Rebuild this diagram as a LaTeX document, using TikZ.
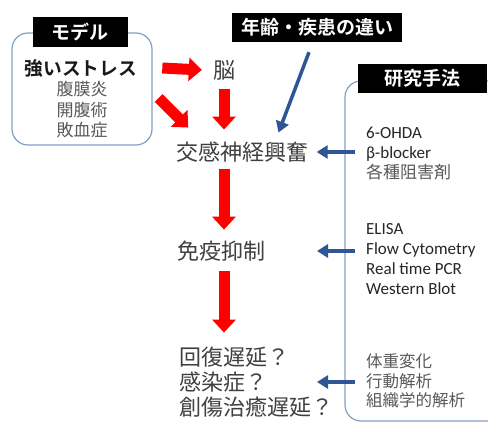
\documentclass[tikz,border=0pt]{standalone}
\usepackage{fontspec}
\setmainfont{Carlito}
\newfontfamily\jp[BoldFont={Noto Sans CJK JP Bold}]{Noto Sans CJK JP}
\usetikzlibrary{arrows.meta,calc}
\definecolor{frameblue}{RGB}{130,160,200}
\definecolor{arrowblue}{RGB}{47,85,151}
\definecolor{maintext}{RGB}{64,64,64}
\definecolor{subtext}{RGB}{89,89,89}
\definecolor{latintext}{RGB}{38,38,38}
\tikzset{
  txt/.style={inner sep=0pt, text=maintext, font=\jp\fontsize{22}{25}\selectfont},
  labelbox/.style={fill=black, text=white, inner sep=0pt, font=\jp\bfseries\fontsize{19}{22}\selectfont},
  redarrow/.style={draw=red, line width=11pt, -{Triangle[length=13pt,width=23pt]}},
  bluearrow/.style={draw=arrowblue, line width=3.5pt, -{Triangle[length=11pt,width=13pt]}},
  frame/.style={draw=frameblue, line width=1.2pt, rounded corners=16pt},
  methods/.style={anchor=west, inner sep=0pt, align=left, text=latintext}
}
\begin{document}
\begin{tikzpicture}[x=1pt,y=-1pt]
\useasboundingbox[fill=white] (0,0) rectangle (488,423);
% frames
\node[frame, minimum width=140pt, minimum height=112pt] (mbox) at (82,89) {};
\draw[frame] (488,81) -- (345,81) -- (345,421) -- (488,421);
% labels
\node[labelbox, minimum width=95pt, minimum height=30pt] (model) at (80,32) {モデル};
\node[labelbox, minimum width=170pt, minimum height=29pt] (age) at (317,27.5) {年齢・疾患の違い};
\node[labelbox, minimum width=129pt, minimum height=29pt] (meth) at (422,78) {研究手法};
% left box content
\node[inner sep=0pt, text=black!90, font=\jp\bfseries\fontsize{18.7}{22}\selectfont] (stress) at (81,68) {強いストレス};
\node[inner sep=0pt, align=center, text=subtext, font=\jp\fontsize{17}{20.5}\selectfont] (sub) at (82,110) {腹膜炎\\開腹術\\敗血症};
% main chain
\node[txt] (brain) at (224,70) {脳};
\node[txt] (symp) at (242.5,152) {交感神経興奮};
\node[txt] (immune) at (221,251) {免疫抑制};
\node[txt, anchor=west] (r1) at (179,357) {回復遅延？};
\node[txt, anchor=west] (r2) at (179,382) {感染症？};
\node[txt, anchor=west] (r3) at (179,407) {創傷治癒遅延？};
% right methods
\node[methods, font=\fontsize{17}{20}\selectfont] (m1) at (366,153) {6-OHDA\\β-blocker\\\textcolor{subtext}{\jp 各種阻害剤}};
\node[methods, font=\fontsize{17}{20.3}\selectfont] (m2) at (366,259) {ELISA\\Flow Cytometry\\Real time PCR\\Western Blot};
\node[methods, text=subtext, font=\jp\fontsize{16.5}{19.5}\selectfont] (m3) at (366,381) {体重変化\\行動解析\\組織学的解析};
% red arrows
\draw[redarrow] ([xshift=25pt]stress.east) -- ([xshift=-11pt]brain.west);
\draw[redarrow] ($(mbox.east)+(6,9)$) -- ($(symp.north west)+(12,-14)$);
\draw[redarrow] ($(brain)+(0,19)$) -- ($(brain |- symp.north)+(0,-12)$);
\draw[redarrow] ($(brain |- symp.south)+(0,7)$) -- ($(brain |- immune.north)+(0,-11)$);
\draw[redarrow] ($(brain |- immune.south)+(0,10)$) -- ($(brain |- r1.north)+(0,-14)$);
% blue arrows
\draw[bluearrow] ($(age.south)+(-8,10)$) -- ($(symp.north)+(36,-9)$);
\draw[bluearrow] ($(m1.west |- symp.east)+(-11,0)$) -- ($(symp.east)+(8,0)$);
\draw[bluearrow] ($(m2.west |- immune.east)+(-11,0)$) -- ($(m2.west |- immune.east)+(-49,0)$);
\draw[bluearrow] ($(m3.west |- r2.east)+(-11,0)$) -- ($(m3.west |- r2.east)+(-49,0)$);
\end{tikzpicture}
\end{document}
